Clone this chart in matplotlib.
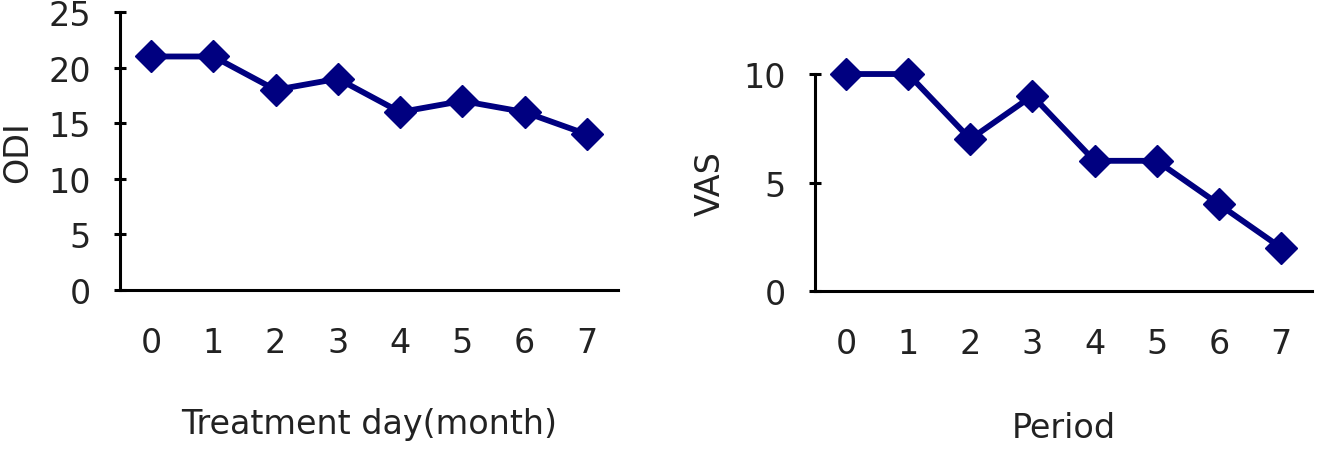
import matplotlib
matplotlib.use("Agg")
import matplotlib.pyplot as plt

plt.rcParams['font.family'] = ['DejaVu Sans']

periods = ["0", "1", "2", "3", "4", "5", "6", "7"]
odi = [21, 21, 18, 19, 16, 17, 16, 14]
vas = [10, 10, 7, 9, 6, 6, 4, 2]

navy = "#000080"
fs = 24

fig = plt.figure(figsize=(13.2, 4.6), dpi=100)
ax1 = fig.add_axes([0.0909, 0.3674, 0.3773, 0.6043])
ax2 = fig.add_axes([0.6174, 0.3652, 0.3765, 0.4717])


def style(ax, yvals, yticks, ylabel, xlabel, ly, xy):
    pos = [i + 0.5 for i in range(len(periods))]
    ax.plot(pos, yvals, color=navy, lw=4.2, marker="D", markersize=16,
            clip_on=False, zorder=3)
    ax.set_xlim(0, len(periods))
    ax.set_ylim(yticks[0], yticks[-1])
    ax.set_xticks(pos)
    ax.set_xticklabels(periods)
    ax.set_yticks(yticks)
    for s in ["top", "right"]:
        ax.spines[s].set_visible(False)
    for s in ["left", "bottom"]:
        ax.spines[s].set_linewidth(2.2)
    ax.tick_params(axis="x", length=0, pad=26, labelsize=fs, colors="#222222")
    ax.tick_params(axis="y", direction="inout", length=8, width=2.2,
                   pad=17, labelsize=fs, labelcolor="#222222")
    ax.set_ylabel(ylabel, fontsize=fs, color="#222222")
    ax.set_xlabel(xlabel, fontsize=fs, color="#222222")
    ax.yaxis.set_label_coords(ly, 0.5)
    ax.yaxis.label.set_va("center")
    ax.xaxis.set_label_coords(0.5, xy)
    ax.xaxis.label.set_va("center")


style(ax1, odi, [0, 5, 10, 15, 20, 25], "ODI", "Treatment day(month)", -0.206, -0.482)
style(ax2, vas, [0, 5, 10], "VAS", "Period", -0.211, -0.627)

fig.savefig("out.png", dpi=100)
